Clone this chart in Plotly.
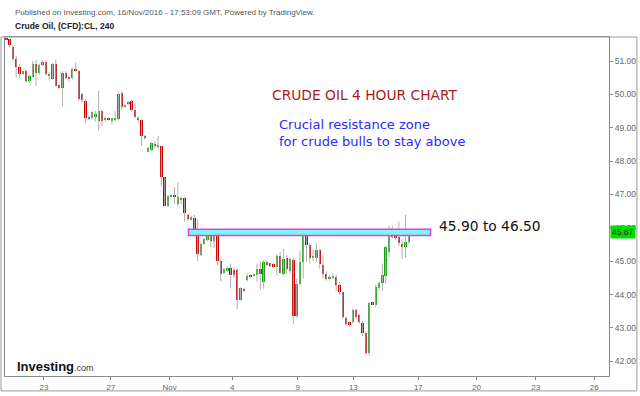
import plotly.graph_objects as go

# ---- data (4-hour candles) ----
opens = [51.69, 51.65, 51.43, 51.07, 50.83, 50.62, 50.69, 50.39, 50.53, 50.90,
         50.63, 50.88, 50.98, 50.56, 50.46, 50.92, 50.28, 50.20, 50.63, 50.51,
         50.50, 50.76, 50.70, 50.00, 49.80, 49.32, 49.28, 49.31, 49.20, 49.50,
         49.22, 49.30, 49.20, 49.25, 49.27, 50.04, 49.62, 49.70, 49.80, 49.53,
         49.30, 49.23, 48.76, 48.28, 48.34, 48.51, 48.44, 48.44, 47.51, 46.65,
         46.93, 46.99, 46.72, 46.89, 46.89, 46.39, 46.25, 46.29, 45.97, 45.19,
         45.52, 45.63, 45.82, 45.62, 45.77, 45.02, 44.66, 44.72, 44.80, 44.74,
         44.74, 43.85, 44.18, 44.45, 44.57, 44.56, 44.58, 44.78, 44.38, 44.98,
         44.94, 44.92, 44.83, 45.17, 44.63, 45.10, 44.70, 45.05, 43.36, 44.33,
         44.98, 45.79, 45.49, 45.12, 45.10, 45.34, 44.90, 44.63, 44.47, 44.52,
         44.53, 44.30, 44.08, 43.30, 43.18, 43.18, 43.55, 43.38, 43.16, 42.84,
         42.24, 43.78, 43.68, 44.20, 44.36, 44.56, 45.29, 45.87, 45.77, 45.72,
         45.52, 45.42, 45.57]
highs = [51.70, 51.66, 51.49, 51.16, 50.90, 50.72, 50.75, 50.58, 51.01, 51.04,
         50.92, 51.03, 51.02, 50.66, 50.95, 51.05, 50.30, 50.70, 50.69, 50.54,
         50.80, 50.95, 50.72, 50.06, 49.85, 49.36, 49.49, 49.51, 50.10, 49.55,
         49.33, 49.32, 49.30, 49.50, 50.06, 50.10, 49.70, 49.80, 49.85, 49.75,
         49.35, 49.25, 48.78, 48.42, 48.57, 48.58, 48.75, 48.45, 47.52, 46.98,
         47.01, 47.22, 47.36, 46.93, 46.92, 46.42, 46.36, 46.39, 46.27, 45.57,
         45.70, 45.80, 45.86, 45.87, 45.82, 45.07, 44.79, 44.84, 44.93, 44.82,
         44.78, 44.22, 44.20, 44.63, 44.60, 44.62, 44.93, 45.00, 45.03, 45.02,
         44.96, 44.95, 45.22, 45.27, 45.37, 45.19, 45.11, 45.10, 44.48, 45.32,
         45.92, 45.92, 45.55, 45.35, 45.55, 45.37, 45.17, 44.69, 44.56, 44.63,
         44.60, 44.39, 44.09, 43.34, 43.20, 43.58, 43.58, 43.43, 43.22, 42.90,
         43.78, 43.80, 44.30, 44.39, 44.93, 45.46, 46.07, 46.07, 45.82, 46.19,
         45.67, 46.39, 45.92]
lows = [51.64, 51.41, 50.99, 50.50, 50.50, 50.58, 50.35, 50.36, 50.50, 50.25,
        50.58, 50.85, 50.56, 50.42, 50.43, 50.24, 50.15, 49.65, 50.45, 50.39,
        50.45, 50.68, 49.80, 49.75, 49.16, 49.22, 49.24, 49.19, 48.90, 49.05,
        49.18, 49.22, 49.10, 49.20, 49.22, 49.55, 49.60, 49.68, 49.49, 49.30,
        49.15, 48.46, 48.65, 48.26, 48.30, 48.38, 48.36, 47.26, 46.64, 46.62,
        46.90, 46.72, 46.65, 46.69, 46.19, 46.21, 46.22, 45.82, 45.00, 45.16,
        45.50, 45.60, 45.42, 45.40, 44.87, 44.40, 44.62, 44.69, 44.18, 44.50,
        43.57, 43.82, 44.07, 44.39, 44.50, 44.54, 44.39, 44.13, 44.18, 44.85,
        44.82, 44.80, 44.58, 44.63, 44.58, 44.63, 44.63, 43.13, 43.31, 44.28,
        44.48, 44.98, 44.93, 45.00, 44.98, 44.78, 44.48, 44.42, 44.42, 44.45,
        44.12, 43.99, 43.28, 43.07, 43.07, 43.13, 43.28, 43.13, 42.75, 42.18,
        42.18, 43.68, 43.62, 44.11, 44.11, 44.33, 45.13, 45.67, 45.64, 45.46,
        45.07, 45.10, 45.52]
closes = [51.65, 51.47, 51.07, 50.83, 50.62, 50.70, 50.39, 50.56, 50.90, 50.63,
          50.87, 50.98, 50.62, 50.60, 50.92, 50.26, 50.20, 50.63, 50.50, 50.45,
          50.76, 50.70, 49.85, 49.84, 49.28, 49.27, 49.46, 49.40, 49.50, 49.20,
          49.30, 49.25, 49.28, 49.30, 50.02, 49.62, 49.68, 49.78, 49.53, 49.33,
          49.23, 48.76, 48.68, 48.38, 48.54, 48.44, 48.47, 47.51, 46.65, 46.95,
          46.99, 46.93, 46.92, 46.82, 46.45, 46.27, 46.34, 45.97, 45.22, 45.52,
          45.67, 45.77, 45.62, 45.77, 45.02, 44.63, 44.76, 44.81, 44.60, 44.59,
          43.85, 44.20, 44.10, 44.55, 44.54, 44.60, 44.78, 44.63, 44.98, 44.90,
          44.87, 44.83, 45.17, 44.65, 45.07, 44.78, 45.08, 43.36, 44.33, 44.98,
          45.82, 45.49, 45.10, 45.16, 45.35, 44.93, 44.63, 44.46, 44.53, 44.57,
          44.28, 44.08, 43.33, 43.13, 43.10, 43.55, 43.33, 43.18, 42.84, 42.24,
          43.76, 43.70, 44.23, 44.36, 44.58, 45.42, 45.85, 45.72, 45.69, 45.55,
          45.42, 45.59, 45.87]

tick_pos = [11.4, 31.7, 49.5, 68.5, 88.3, 105.2, 124.9, 142.5, 160.5, 178.2]
tick_labels = ["23", "27", "Nov", "4", "9", "13", "17", "20", "23", "26"]
y_ticks = [42, 43, 44, 45, 46, 47, 48, 49, 50, 51]
last_price = closes[-1]

zone_low, zone_high = 45.77, 45.96
zone_start, zone_end = 55.2, 128.6

# ---- derived ----
n = len(opens)
idx = list(range(n))
UP, DOWN = "#13a313", "#c80000"
colors = [UP if c >= o else DOWN for o, c in zip(opens, closes)]
bases = [min(o, c) for o, c in zip(opens, closes)]
heights = [max(abs(c - o), 0.02) for o, c in zip(opens, closes)]

wx, wy = [], []
for i in idx:
    wx += [i, i, None]
    wy += [lows[i], highs[i], None]

fig = go.Figure()
fig.add_trace(go.Scatter(x=wx, y=wy, mode="lines",
                         line=dict(color="#b0b0b0", width=1),
                         hoverinfo="skip", showlegend=False))
fig.add_trace(go.Bar(x=idx, y=heights, base=bases, width=0.72,
                     marker=dict(color=colors, line=dict(width=0)),
                     showlegend=False))

fig.add_shape(type="rect", xref="x", yref="y",
              x0=zone_start, x1=zone_end, y0=zone_low, y1=zone_high,
              fillcolor="#80f6f6", line=dict(color="#e040e0", width=1.5))

# outer frame
fig.add_shape(type="rect", xref="paper", yref="paper",
              x0=-4 / 606, x1=634 / 606, y0=-15 / 341, y1=1,
              line=dict(color="#9a9a9a", width=1), fillcolor="rgba(0,0,0,0)")


def note(x_px, y_px, text, font, xanchor="left"):
    fig.add_annotation(xref="paper", yref="paper",
                       x=(x_px - 4) / 606, y=(378 - y_px) / 341,
                       xanchor=xanchor, yanchor="middle", align="left",
                       text=text, showarrow=False, font=font)


txt = "DejaVu Sans"
note(365.5, 95, "CRUDE OIL 4 HOUR CHART",
     dict(family=txt, size=13.8, color="#a81c1c"), xanchor="center")
note(277, 134, "Crucial resistance zone<br>for crude bulls to stay above",
     dict(family=txt, size=13, color="#2a2aff"))
note(437, 227, "45.90 to 46.50", dict(family=txt, size=13.8, color="#111111"))
note(14, 368, "<b>Investing</b><span style='font-size:9px;color:#333'>.com</span>",
     dict(family="Liberation Sans", size=13, color="#111111"))
note(11.7, 12, "Published on Investing.com, 16/Nov/2016 - 17:53:09 GMT, Powered by TradingView.",
     dict(family="Liberation Sans", size=8, color="#555555"))
note(11.7, 26, "<b>Crude Oil, (CFD):CL, 240</b>",
     dict(family="Liberation Sans", size=8.5, color="#222222"))

fig.add_annotation(xref="paper", yref="y", x=1, y=last_price, xanchor="left",
                   yanchor="middle", xshift=1, text="%.2f" % last_price,
                   showarrow=False, bgcolor="#00dd00", borderpad=1,
                   font=dict(family="Liberation Sans", size=8.5, color="#113311"))

fig.update_layout(
    width=640, height=396,
    margin=dict(l=4, r=30, t=37, b=18),
    paper_bgcolor="white", plot_bgcolor="white",
    barmode="overlay", bargap=0,
    showlegend=False,
    font=dict(family="Liberation Sans"),
)
fig.update_xaxes(range=[-0.4, 182.7], tickvals=tick_pos, ticktext=tick_labels,
                 showgrid=False, zeroline=False, showline=True,
                 linecolor="#8a8a8a", linewidth=1, mirror=True,
                 ticks="outside", ticklen=3, tickcolor="#8a8a8a",
                 tickfont=dict(size=8, color="#666666"))
fig.update_yaxes(range=[41.56, 51.72], side="right", tickvals=y_ticks,
                 ticktext=["%.2f" % v for v in y_ticks],
                 showgrid=False, zeroline=False, showline=True,
                 linecolor="#8a8a8a", linewidth=1, mirror=True,
                 ticks="outside", ticklen=3, tickcolor="#8a8a8a",
                 tickfont=dict(size=8.5, color="#666666"))

fig.write_html("out.html", config={"displayModeBar": False},
               post_script="document.body.style.margin='0px';")
